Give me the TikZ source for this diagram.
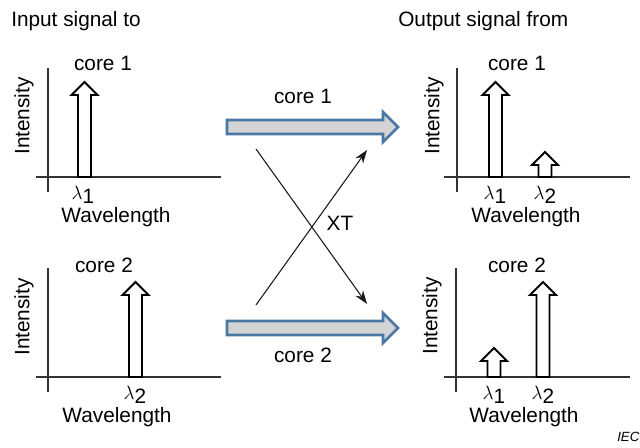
\documentclass[tikz,border=0pt]{standalone}
\usepackage{fontspec}
\setmainfont{Liberation Sans}
\usetikzlibrary{arrows.meta}
\definecolor{steelb}{RGB}{74,120,165}
\definecolor{arrowgray}{RGB}{212,212,212}
\newcommand\spikeup[4]{% name, center x, base y, top y
  \draw[spikestyle] (#2-6.5,#3) coordinate (#1) -- (#2-6.5,#4+13) -- (#2-13,#4+13) -- (#2,#4) -- (#2+13,#4+13) -- (#2+6.5,#4+13) -- (#2+6.5,#3) -- cycle;}
\newcommand\lam[1]{$\lambda$\raisebox{-3pt}{#1}}
\begin{document}
\begin{tikzpicture}[x=0.75pt,y=-0.75pt,
  font=\fontsize{15.6}{18}\selectfont,
  axis/.style={draw=black!80, line width=0.9pt},
  spikestyle/.style={draw=black, line width=1.4pt, fill=white, line join=miter},
  bigarrow/.style={draw=steelb, fill=arrowgray, line width=1.9pt, line join=miter},
  cross/.style={draw=black!90, line width=0.8pt, -{Stealth[length=10pt,width=7pt]}},
  lbl/.style={inner sep=0pt, anchor=base},
  ylbl/.style={inner sep=0pt, rotate=90, anchor=center}]
\useasboundingbox (0,0) rectangle (640,447);

% headers
\node[inner sep=0pt, anchor=base west] (hin) at (11,26) {Input signal to};
\node[inner sep=0pt, anchor=base west] (hout) at (398,26) {Output signal from};

% top-left panel
\draw[axis] (48,68) -- (48,192);
\draw[axis] (36,177) -- (221,177);
\spikeup{s1}{84.5}{177}{82}
\node[lbl] (c1l) at (103,70) {core 1};
\node[lbl] (l1a) at (83,199) {\lam{1}};
\node[lbl] (w1) at (116,222) {Wavelength};
\node[ylbl] (i1) at (24,116) {Intensity};

% bottom-left panel
\draw[axis] (48,268) -- (48,392);
\draw[axis] (36,377) -- (221,377);
\spikeup{s2}{135.5}{377}{282}
\node[lbl] (c2l) at (104,272) {core 2};
\node[lbl] (l2a) at (135,399) {\lam{2}};
\node[lbl] (w2) at (117,422) {Wavelength};
\node[ylbl] (i2) at (24,317) {Intensity};

% top-right panel
\draw[axis] (457,68) -- (457,192);
\draw[axis] (444,177) -- (630,177);
\spikeup{s3}{495.5}{177}{82}
\spikeup{s4}{545}{177}{152}
\node[lbl] (c1r) at (517,70) {core 1};
\node[lbl] (l1b) at (495,199) {\lam{1}};
\node[lbl] (l2b) at (545,199) {\lam{2}};
\node[lbl] (w3) at (526,222) {Wavelength};
\node[ylbl] (i3) at (434,116) {Intensity};

% bottom-right panel
\draw[axis] (456,268) -- (456,392);
\draw[axis] (444,377) -- (630,377);
\spikeup{s5}{494}{377}{348}
\spikeup{s6}{543}{377}{282}
\node[lbl] (c2r) at (517,272) {core 2};
\node[lbl] (l1c) at (494,399) {\lam{1}};
\node[lbl] (l2c) at (543,399) {\lam{2}};
\node[lbl] (w4) at (524,422) {Wavelength};
\node[ylbl] (i4) at (432,316) {Intensity};

% big core arrows
\draw[bigarrow] (227,120) -- (383,120) -- (383,112) -- (398,127) -- (383,142) -- (383,134) -- (227,134) -- cycle;
\draw[bigarrow] (227,321) -- (383,321) -- (383,313) -- (398,328) -- (383,343) -- (383,335) -- (227,335) -- cycle;
\node[lbl] (cm1) at (303,103) {core 1};
\node[lbl] (cm2) at (303,362) {core 2};

% crosstalk
\coordinate (a1) at (256,149);
\coordinate (b1) at (367,304);
\coordinate (a2) at (256,305);
\coordinate (b2) at (367,150);
\draw[cross] (a1) -- (b1);
\draw[cross] (a2) -- (b2);
\node[lbl] (xt) at (340,230) {XT};

% IEC
\node[inner sep=0pt, anchor=base west, font=\fontsize{10}{12}\selectfont\itshape] (iec) at (617,441) {IEC};
\end{tikzpicture}
\end{document}
